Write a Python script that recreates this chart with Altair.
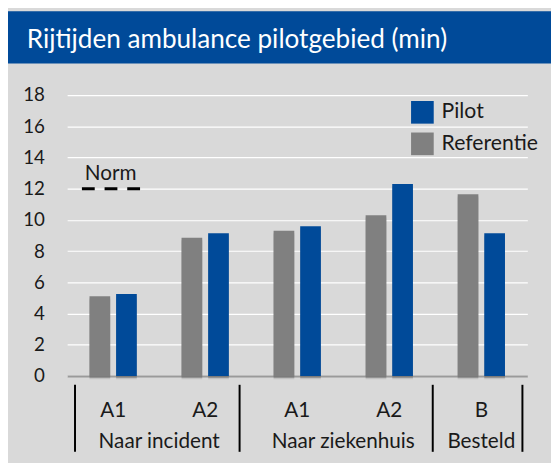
import altair as alt
import pandas as pd

title = "Rijtijden ambulance pilotgebied (min)"
cat_keys = ["inc_A1", "inc_A2", "zk_A1", "zk_A2", "best_B"]
sub_labels = ["A1", "A2", "A1", "A2", "B"]
groups = ["Naar incident", "Naar incident", "Naar ziekenhuis", "Naar ziekenhuis", "Besteld"]
referentie = [5.1, 8.85, 9.3, 10.3, 11.65]
pilot = [5.25, 9.15, 9.6, 12.3, 9.15]
norm_value = 12
series_names = ["Pilot", "Referentie"]

BLUE = "#004A99"
GREY = "#808080"
FONT = "Lato"
TXT = "#1a1a1a"

rows = []
for i, k in enumerate(cat_keys):
    rows.append({"cat": k, "series": "Referentie", "value": referentie[i]})
    rows.append({"cat": k, "series": "Pilot", "value": pilot[i]})
df = pd.DataFrame(rows)

lab = pd.DataFrame({"cat": cat_keys, "sub": sub_labels, "group": groups})
grp2 = lab[lab["sub"] == "A1"]
grp1 = lab[lab["sub"] == "B"]

x_scale = alt.Scale(domain=cat_keys, paddingInner=0.486, paddingOuter=0.243)
x_axis = alt.Axis(labels=False, ticks=False, domain=True, domainColor="#9a9a9a",
                  domainWidth=2, grid=False, title=None)

def X():
    return alt.X("cat:N", scale=x_scale, sort=cat_keys, axis=x_axis, title=None)

y_scale = alt.Scale(domain=[0, 18], nice=False)
y_axis = alt.Axis(values=list(range(0, 19, 2)), grid=True, gridColor="white",
                  gridWidth=1.2, domain=False, ticks=False, labelPadding=23,
                  labelFontSize=19, labelColor=TXT, labelFont=FONT, title=None)

def Y(field):
    return alt.Y(field, scale=y_scale, axis=y_axis, title=None)

xoff = alt.XOffset("series:N", sort=["Referentie", "Pilot"],
                   scale=alt.Scale(paddingInner=0.222, paddingOuter=0))

tdf = pd.DataFrame({"t": [title]})
title_bar = alt.Chart(tdf).mark_rect(color=BLUE).encode(
    x=alt.value(-60), x2=alt.value(491), y=alt.value(-85), y2=alt.value(-32))
title_txt = alt.Chart(tdf).mark_text(align="left", baseline="alphabetic", fontSize=26.5,
                                     color="white", font=FONT).encode(
    x=alt.value(-41), y=alt.value(-48), text="t:N")

shadows = []
for dxo, dyo, op in [(2, 2, 0.10), (4, 3, 0.07), (6, 4, 0.04)]:
    shadows.append(alt.Chart(df).mark_bar(color="black", opacity=op, xOffset=dxo, yOffset=dyo,
                                          y2Offset=0).encode(
        x=X(), y=Y("value:Q"), xOffset=xoff))

bars = alt.Chart(df).mark_bar().encode(
    x=X(),
    y=Y("value:Q"),
    xOffset=xoff,
    color=alt.Color("series:N", scale=alt.Scale(domain=series_names, range=[BLUE, GREY]),
                    legend=alt.Legend(orient="none", legendX=349, legendY=6, title=None,
                                      symbolType="square", symbolSize=529, symbolStrokeWidth=0,
                                      labelFontSize=21.5, labelFont=FONT, labelColor=TXT,
                                      labelOffset=8, rowPadding=9, padding=0)),
)

ndf = pd.DataFrame({"norm": [norm_value], "lbl": ["Norm"]})
norm_rule = alt.Chart(ndf).mark_rule(color="black", strokeWidth=3, strokeDash=[13, 10]).encode(
    x=alt.value(15), x2=alt.value(75), y=Y("norm:Q"))
norm_txt = alt.Chart(ndf).mark_text(align="left", baseline="alphabetic", fontSize=21,
                                    font=FONT, color=TXT, dy=-9).encode(
    x=alt.value(18), y=Y("norm:Q"), text="lbl:N")

sub_txt = alt.Chart(lab).mark_text(baseline="middle", fontSize=21, font=FONT, color=TXT).encode(
    x=X(), y=alt.value(321), text="sub:N")
grp_txt2 = alt.Chart(grp2).mark_text(baseline="middle", fontSize=21, font=FONT, color=TXT,
                                     dx=46.7).encode(x=X(), y=alt.value(352), text="group:N")
grp_txt1 = alt.Chart(grp1).mark_text(baseline="middle", fontSize=21, font=FONT, color=TXT).encode(
    x=X(), y=alt.value(352), text="group:N")

seps = [alt.Chart(tdf).mark_rule(color="black", strokeWidth=2).encode(
    x=alt.value(px), y=alt.value(294), y2=alt.value(362)) for px in [8, 175, 371, 462]]

chart = alt.layer(title_bar, title_txt, *shadows, bars, norm_rule, norm_txt, sub_txt,
                  grp_txt2, grp_txt1, *seps).properties(
    width=467, height=285,
    autosize=alt.AutoSizeParams(type="none"),
    padding={"left": 60, "top": 85, "right": 24, "bottom": 85},
    background="#D9D9D9",
).configure_view(stroke=None)

chart.save("out.html", embed_options={"renderer": "svg", "actions": False})
